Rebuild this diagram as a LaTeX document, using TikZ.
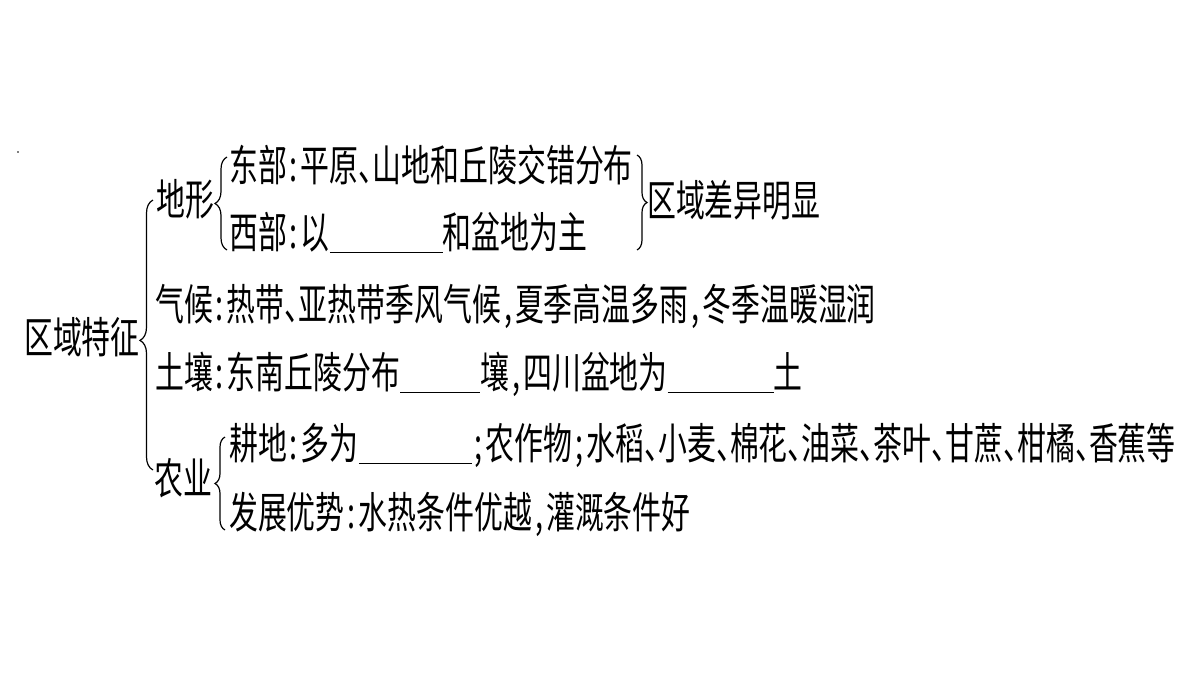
\documentclass[tikz,border=0pt]{standalone}
\usepackage{fontspec}
\newfontfamily\cjk[FakeStretch=0.672]{Noto Sans CJK SC}
\usetikzlibrary{decorations.pathreplacing}
\newcommand{\blank}[1]{\rule[-5pt]{#1}{1pt}}
\newcommand{\hw}[1]{\makebox[14pt][c]{#1}}
\newcommand{\dun}{\makebox[14pt][l]{、}}

\begin{document}
\begin{tikzpicture}[x=1pt, y=1pt,
  txt/.style={anchor=base west, inner sep=0pt, font=\cjk\fontsize{43}{45}\selectfont},
  brc/.style={decorate, line width=1.2pt}]
  \useasboundingbox[fill=white] (0,0) rectangle (1200,-675);
  \fill[gray] (17,-151) rectangle (19,-153);

  % Define blocks
  \node[txt] (root) at (24,-353) {区域特征};
  \node[txt] (dixing) at (156,-215) {地形};
  \node[txt] (east) at (229,-181) {东部\hw{:}平原\dun 山地和丘陵交错分布};
  \node[txt] (west) at (229,-248) {西部\hw{:}以\blank{113pt}和盆地为主};
  \node[txt] (diff) at (647,-216) {区域差异明显};
  \node[txt] (climate) at (155,-320) {气候\hw{:}热带\dun 亚热带季风气候\hw{,}夏季高温多雨\hw{,}冬季温暖湿润};
  \node[txt] (soil) at (155,-388) {土壤\hw{:}东南丘陵分布\blank{80pt}壤\hw{,}四川盆地为\blank{106pt}土};
  \node[txt] (agri) at (154,-494) {农业};
  \node[txt] (land) at (229,-459) {耕地\hw{:}多为\blank{113pt}\hw{;}农作物\hw{;}水稻\dun 小麦\dun 棉花\dun 油菜\dun 茶叶\dun 甘蔗\dun 柑橘\dun 香蕉等};
  \node[txt] (adv) at (229,-528) {发展优势\hw{:}水热条件优越\hw{,}灌溉条件好};

  % Brace ends
  \coordinate (rootlo) at (153,-470);
  \coordinate (roothi) at (153,-200);
  \coordinate (dxlo) at (227,-250);
  \coordinate (dxhi) at (227,-157);
  \coordinate (difhi) at (637,-155);
  \coordinate (diflo) at (637,-250);
  \coordinate (aglo) at (225,-530);
  \coordinate (aghi) at (225,-437);

  % Connect blocks with braces
  \draw[brc, decoration={brace, amplitude=13pt, aspect=0.48}] (rootlo) -- (roothi);
  \draw[brc, decoration={brace, amplitude=12pt, aspect=0.5}] (dxlo) -- (dxhi);
  \draw[brc, decoration={brace, amplitude=10pt, aspect=0.5}] (difhi) -- (diflo);
  \draw[brc, decoration={brace, amplitude=10pt, aspect=0.5}] (aglo) -- (aghi);
\end{tikzpicture}
\end{document}
